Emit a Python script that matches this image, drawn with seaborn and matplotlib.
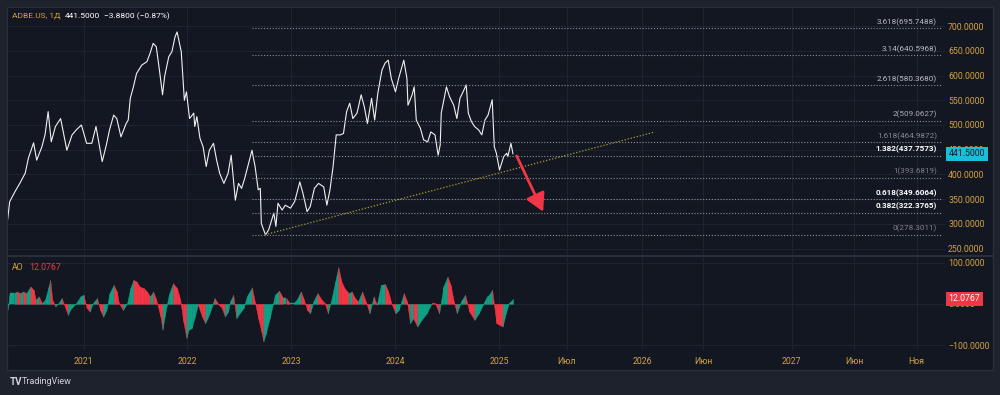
import seaborn as sns
import matplotlib.pyplot as plt
from matplotlib.patches import Rectangle
from matplotlib.lines import Line2D
from matplotlib.transforms import blended_transform_factory

# ADBE daily close (decimal years)
years = [2020.27, 2020.29, 2020.34, 2020.39, 2020.44, 2020.47, 2020.52, 2020.55, 2020.60, 2020.63,
         2020.66, 2020.69, 2020.73, 2020.78, 2020.84, 2020.89, 2020.93, 2020.98, 2021.03, 2021.08,
         2021.12, 2021.18, 2021.22, 2021.25, 2021.29, 2021.32, 2021.36, 2021.41, 2021.43, 2021.45,
         2021.48, 2021.51, 2021.56, 2021.61, 2021.64, 2021.67, 2021.70, 2021.73, 2021.76, 2021.78,
         2021.82, 2021.85, 2021.88, 2021.90, 2021.94, 2021.97, 2021.99, 2022.02, 2022.06, 2022.07,
         2022.09, 2022.12, 2022.15, 2022.18, 2022.21, 2022.25, 2022.28, 2022.31, 2022.35, 2022.39,
         2022.42, 2022.46, 2022.49, 2022.52, 2022.55, 2022.62, 2022.65, 2022.68, 2022.70, 2022.71,
         2022.75, 2022.78, 2022.81, 2022.83, 2022.85, 2022.87, 2022.91, 2022.94, 2022.99, 2023.03,
         2023.08, 2023.11, 2023.15, 2023.18, 2023.22, 2023.26, 2023.31, 2023.34, 2023.37, 2023.40,
         2023.43, 2023.47, 2023.50, 2023.53, 2023.56, 2023.59, 2023.63, 2023.67, 2023.70, 2023.73,
         2023.77, 2023.80, 2023.83, 2023.87, 2023.90, 2023.93, 2023.96, 2024.00, 2024.03, 2024.08,
         2024.11, 2024.12, 2024.16, 2024.18, 2024.20, 2024.24, 2024.27, 2024.31, 2024.34, 2024.38,
         2024.41, 2024.43, 2024.44, 2024.49, 2024.52, 2024.56, 2024.59, 2024.62, 2024.65, 2024.68,
         2024.70, 2024.73, 2024.76, 2024.80, 2024.83, 2024.86, 2024.89, 2024.93, 2024.95, 2024.97,
         2025.00, 2025.04, 2025.07, 2025.08, 2025.11, 2025.13]
prices = [308, 345, 365, 383, 403, 433, 464, 429, 456, 480,
          527, 466, 497, 513, 449, 480, 490, 500, 463, 463,
          497, 426, 460, 490, 520, 513, 476, 503, 510, 554,
          577, 604, 621, 628, 645, 665, 658, 611, 561, 598,
          638, 648, 678, 688, 648, 550, 567, 513, 524, 497,
          517, 473, 456, 416, 449, 463, 429, 402, 382, 402,
          439, 348, 382, 372, 392, 449, 416, 369, 372, 301,
          278, 288, 308, 322, 295, 342, 328, 338, 332, 345,
          385, 362, 325, 335, 372, 382, 375, 338, 369, 416,
          480, 480, 483, 527, 544, 513, 524, 561, 537, 503,
          554, 510, 564, 611, 625, 631, 594, 567, 594, 631,
          594, 540, 561, 577, 510, 493, 470, 466, 486, 480,
          439, 460, 524, 577, 557, 540, 513, 554, 567, 581,
          524, 507, 497, 490, 480, 510, 520, 551, 456, 443,
          409, 436, 443, 436, 463, 441.5]

# Awesome Oscillator
ao_years = [2020.27, 2020.29, 2020.33, 2020.36, 2020.39, 2020.42, 2020.45, 2020.49, 2020.52, 2020.54,
            2020.57, 2020.60, 2020.63, 2020.66, 2020.68, 2020.70, 2020.73, 2020.76, 2020.79, 2020.82,
            2020.85, 2020.87, 2020.90, 2020.93, 2020.97, 2021.00, 2021.03, 2021.06, 2021.09, 2021.13,
            2021.16, 2021.19, 2021.22, 2021.25, 2021.29, 2021.32, 2021.34, 2021.38, 2021.42, 2021.45,
            2021.48, 2021.51, 2021.54, 2021.58, 2021.61, 2021.64, 2021.67, 2021.70, 2021.74, 2021.76,
            2021.78, 2021.82, 2021.86, 2021.90, 2021.93, 2021.96, 2021.99, 2022.01, 2022.04, 2022.07,
            2022.10, 2022.14, 2022.17, 2022.20, 2022.23, 2022.26, 2022.30, 2022.33, 2022.36, 2022.39,
            2022.41, 2022.44, 2022.47, 2022.50, 2022.54, 2022.57, 2022.62, 2022.65, 2022.68, 2022.71,
            2022.73, 2022.75, 2022.79, 2022.82, 2022.84, 2022.88, 2022.92, 2022.95, 2022.98, 2023.02,
            2023.05, 2023.09, 2023.12, 2023.15, 2023.18, 2023.21, 2023.25, 2023.29, 2023.32, 2023.35,
            2023.39, 2023.42, 2023.45, 2023.48, 2023.51, 2023.55, 2023.58, 2023.61, 2023.64, 2023.68,
            2023.72, 2023.75, 2023.79, 2023.82, 2023.86, 2023.90, 2023.93, 2023.96, 2024.00, 2024.03,
            2024.08, 2024.11, 2024.14, 2024.17, 2024.21, 2024.25, 2024.30, 2024.35, 2024.38, 2024.42,
            2024.46, 2024.50, 2024.53, 2024.56, 2024.59, 2024.63, 2024.67, 2024.71, 2024.76, 2024.80,
            2024.84, 2024.88, 2024.90, 2024.93, 2024.97, 2025.00, 2025.03, 2025.06, 2025.09, 2025.13]
ao_values = [-15, 26, 26, 30, 26, 30, 26, 42, 34, 10,
             18, 2, 10, 38, 58, 10, -6, 2, 14, -6,
             -27, -15, -6, 2, 18, 22, -10, -19, 2, 14,
             -15, -31, -15, 26, 46, 30, 2, -15, 2, 38,
             58, 54, 42, 38, 30, 18, 30, 10, -31, -63,
             -31, 22, 50, 38, 10, -43, -83, -63, -59, -31,
             -2, -31, -47, -31, -10, 14, -2, -10, -31, -19,
             6, 22, -35, -23, -10, 18, 40, 2, -35, -67,
             -91, -75, -35, -2, 22, 32, 14, 14, 2, 2,
             10, 30, 10, -15, -23, 6, 26, 10, 2, -23,
             18, 54, 89, 54, 38, 26, 30, 14, 6, 30,
             2, -23, 18, -2, 46, 48, 30, 2, -23, -15,
             26, 6, -47, -35, -55, -39, -23, 3, 2, -23,
             42, 66, 46, 6, -23, 6, 22, -19, -39, -23,
             -2, 18, 22, 34, -47, -51, -55, -23, 2, 12.0767]

fib_ratios = ['0', '0.382', '0.618', '1', '1.382', '1.618', '2', '2.618', '3.14', '3.618']
fib_prices = [278.3011, 322.3765, 349.6064, 393.6819, 437.7573, 464.9872, 509.0627, 580.3680, 640.5968, 695.7488]
fib_colors = ['#7d808a', '#ffffff', '#ffffff', '#7d808a', '#ffffff', '#868993', '#a9acb4', '#b8bbc3', '#b8bbc3', '#b8bbc3']

price_ticks = [250, 300, 350, 400, 450, 500, 550, 600, 650, 700]
ao_ticks = [-100, 0, 100]
time_ticks = [2021, 2022, 2023, 2024, 2025, 2025.645, 2026.37, 2026.96, 2027.81, 2028.41, 2029.01]
time_labels = ['2021', '2022', '2023', '2024', '2025', 'Июл', '2026', 'Июн', '2027', 'Июн', 'Ноя']

trend_x = [2022.745, 2026.495]
trend_y = [278.3, 486.0]
arrow_from = (2025.165, 437.4)
arrow_to = (2025.42, 324.8)
last_price = 441.5
last_ao = 12.0767

BG = '#131722'
GOLD = '#d4a23c'
GRID = '#1f2330'
GREEN = '#10a085'
RED = '#f23645'

sns.set_theme(style='dark', rc={'axes.facecolor': BG, 'figure.facecolor': '#1e222d'})
plt.rcParams['font.family'] = ['Roboto', 'DejaVu Sans']

fig = plt.figure(figsize=(10, 3.95), dpi=100)


def fx(x):
    return x / 1000


def fy(y):
    return 1 - y / 395


fig.patches.append(Rectangle((fx(7), fy(370)), 986 / 1000, 363 / 395, transform=fig.transFigure,
                             facecolor=BG, edgecolor='#2a2e39', lw=1, zorder=-10))

ax = fig.add_axes([fx(8), fy(256), 937 / 1000, 248 / 395])
ax2 = fig.add_axes([fx(8), fy(350), 937 / 1000, 94 / 395], sharex=ax)

xmin, xmax = 2020.274, 2029.284
for a in (ax, ax2):
    a.set_facecolor(BG)
    for s in a.spines.values():
        s.set_visible(False)
    a.set_xticks(time_ticks)
    a.grid(True, color=GRID, lw=0.8)
    a.yaxis.tick_right()
    a.tick_params(length=0, labelsize=6.3, labelcolor=GOLD, pad=2.2)
ax.set_xlim(xmin, xmax)
ax.tick_params(labelbottom=False)

# price pane
sns.lineplot(x=years, y=prices, ax=ax, color='#f0f0f0', lw=0.8, sort=False, estimator=None)
ax.set_ylim(235.3, 736.4)
ax.set_yticks(price_ticks)
ax.set_yticklabels([f'{v:.4f}' for v in price_ticks])

ax.hlines(fib_prices, 2022.62, 2029.25, colors='#8c8f99', linestyles=(0, (1, 1.6)), lw=0.8)
for r, p, c in zip(fib_ratios, fib_prices, fib_colors):
    ax.annotate(f'{r}({p:.4f})', xy=(2029.207, p), xytext=(0, 1.8), textcoords='offset points',
                ha='right', va='bottom', color=c, fontsize=5.9,
                fontweight='bold' if c == '#ffffff' else 'normal')

ax.plot(trend_x, trend_y, color='#b09f2c', lw=0.9, ls=(0, (1, 1.5)))
ax.annotate('', xy=arrow_to, xytext=arrow_from,
            arrowprops=dict(arrowstyle='-|>,head_length=0.9,head_width=0.5', color=RED, lw=2,
                            mutation_scale=12, shrinkA=0, shrinkB=0))

tr = blended_transform_factory(ax.transAxes, ax.transData)
ax.annotate(f'{last_price:.4f}', xy=(1, last_price), xycoords=tr, xytext=(2.6, 0),
            textcoords='offset points', ha='left', va='center', color=BG, fontsize=6.3,
            bbox=dict(boxstyle='square,pad=0.3', fc='#19bfd8', ec='none'))

# AO pane
for i in range(len(ao_values) - 1):
    c = GREEN if ao_values[i + 1] >= ao_values[i] else RED
    ax2.fill_between(ao_years[i:i + 2], ao_values[i:i + 2], 0, color=c, lw=0.3, ec=c)
ax2.axhline(0, color='#2a2e39', lw=0.8, zorder=0)
ax2.set_ylim(-112.1, 116.2)
ax2.set_yticks(ao_ticks)
ax2.set_yticklabels(['\u2212100.0000', '0.0000', '100.0000'])
ax2.set_xticklabels(time_labels)
ax2.tick_params(axis='x', pad=5)
ax2.set_xlabel('')
ax2.set_ylabel('')
ax.set_xlabel('')
ax.set_ylabel('')

tr2 = blended_transform_factory(ax2.transAxes, ax2.transData)
ax2.annotate(f'{last_ao:.4f}', xy=(1, last_ao), xycoords=tr2, xytext=(2.6, 0),
             textcoords='offset points', ha='left', va='center', color='white', fontsize=6.3,
             bbox=dict(boxstyle='square,pad=0.3', fc=RED, ec='none'))

# separator between panes
fig.add_artist(Line2D([fx(7), fx(993)], [fy(256), fy(256)], transform=fig.transFigure,
                      color='#2a2e39', lw=1.5))

# header texts
fig.text(fx(12), fy(16), 'ADBE.US, 1Д', color=GOLD, fontsize=6.0, va='center')
fig.text(fx(65), fy(16), '441.5000', color='white', fontsize=6.0, va='center')
fig.text(fx(104), fy(16), '\u22123.8800 (\u22120.87%)', color='white', fontsize=6.0, va='center')
fig.text(fx(12), fy(267), 'AO', color=GOLD, fontsize=6.3, va='center')
fig.text(fx(29), fy(267), '12.0767', color=RED, fontsize=6.3, va='center')
fig.text(fx(10), fy(382), 'TV', color='#d1d4dc', fontsize=7, va='center', fontweight='bold')
fig.text(fx(22), fy(382), 'TradingView', color='#d1d4dc', fontsize=6.5, va='center')

fig.savefig('out.png', dpi=100, facecolor=fig.get_facecolor())
